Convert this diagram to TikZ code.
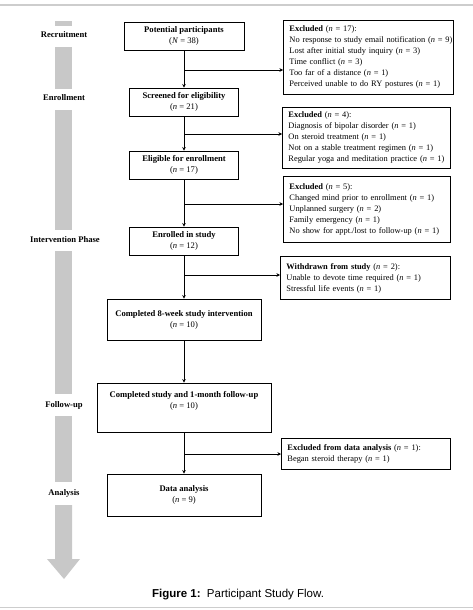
\documentclass[tikz,border=0pt]{standalone}
\usepackage{fontspec}
\setmainfont{Liberation Serif}
\newfontfamily\capfont{Liberation Sans}
\usetikzlibrary{arrows.meta,calc}
\definecolor{barg}{RGB}{200,200,200}
\definecolor{lineg}{RGB}{205,205,205}
\newcommand{\myn}{\textit{n}}
\hbadness=10000 \hfuzz=50pt
\begin{document}
\begin{tikzpicture}[x=1pt,y=-1pt,
  every node/.style={font=\fontsize{8.6}{11}\selectfont},
  mainbox/.style={draw,line width=0.9pt,align=center,inner sep=0pt},
  sidebox/.style={draw,line width=0.9pt,align=left,anchor=north west,inner xsep=6pt,inner ysep=0pt,font=\fontsize{8.4}{11}\selectfont},
  phase/.style={font=\fontsize{8.6}{10}\selectfont\bfseries},
  arr/.style={line width=0.9pt,-{Stealth[length=3.5pt,width=3.5pt]}}]
\useasboundingbox (0,0) rectangle (473,610);
% frame lines
\draw[lineg,line width=2pt] (0,5) -- (473,5);
\draw[lineg,line width=1.5pt] (0,607.5) -- (473,607.5);
% gray phase bar
\fill[barg] (55,21) rectangle (72,26);
\fill[barg] (55,47) rectangle (72,89);
\fill[barg] (55,110) rectangle (72,230);
\fill[barg] (55,251) rectangle (72,394);
\fill[barg] (55,416) rectangle (72,482);
\fill[barg] (55,505) -- (72,505) -- (72,559) -- (80,559) -- (64,579) -- (47,559) -- (55,559) -- cycle;
% phase labels
\node[phase] (p1) at (64,35) {Recruitment};
\node[phase] (p2) at (64,98) {Enrollment};
\node[phase] (p3) at (65,240) {Intervention Phase};
\node[phase] (p4) at (64,405) {Follow-up};
\node[phase] (p5) at (64,493) {Analysis};
% main boxes
\node[mainbox,minimum width=120,minimum height=28] (b1) at (184,36) {\textbf{Potential participants}\\(\textit{N} = 38)};
\node[mainbox,minimum width=109,minimum height=28] (b2) at (184,102) {\textbf{Screened for eligibility}\\(\myn{} = 21)};
\node[mainbox,minimum width=109,minimum height=28] (b3) at (184,165) {\textbf{Eligible for enrollment}\\(\myn{} = 17)};
\node[mainbox,minimum width=109,minimum height=28] (b4) at (184,241) {\textbf{Enrolled in study}\\(\myn{} = 12)};
\node[mainbox,minimum width=154,minimum height=41] (b5) at (184,319.5) {\textbf{Completed 8-week study intervention}\\(\myn{} = 10)};
\node[mainbox,minimum width=174,minimum height=49] (b6) at (184,407.5) {\textbf{Completed study and 1-month follow-up}\\(\myn{} = 10)\\[4pt]};
\node[mainbox,minimum width=154,minimum height=42] (b7) at (184,495) {\textbf{Data analysis}\\(\myn{} = 9)};
% side boxes
\node[sidebox,text width=158,minimum height=74] (e1) at (283,20) {\mbox{\textbf{Excluded} (\myn{} = 17):}\\\mbox{No response to study email notification (\myn{} = 9)}\\\mbox{Lost after initial study inquiry (\myn{} = 3)}\\\mbox{Time conflict (\myn{} = 3)}\\\mbox{Too far of a distance (\myn{} = 1)}\\\mbox{Perceived unable to do RY postures (\myn{} = 1)}};
\node[sidebox,text width=156,minimum height=61] (e2) at (282,107) {\mbox{\textbf{Excluded} (\myn{} = 4):}\\\mbox{Diagnosis of bipolar disorder (\myn{} = 1)}\\\mbox{On steroid treatment (\myn{} = 1)}\\\mbox{Not on a stable treatment regimen (\myn{} = 1)}\\\mbox{Regular yoga and meditation practice (\myn{} = 1)}};
\node[sidebox,text width=155,minimum height=66] (e3) at (283,176) {\mbox{\textbf{Excluded} (\myn{} = 5):}\\\mbox{Changed mind prior to enrollment (\myn{} = 1)}\\\mbox{Unplanned surgery (\myn{} = 2)}\\\mbox{Family emergency (\myn{} = 1)}\\\mbox{No show for appt./lost to follow-up (\myn{} = 1)}};
\node[sidebox,text width=158,minimum height=43] (e4) at (280,256) {\mbox{\textbf{Withdrawn from study} (\myn{} = 2):}\\\mbox{Unable to devote time required (\myn{} = 1)}\\\mbox{Stressful life events (\myn{} = 1)}\\[3pt]};
\node[sidebox,text width=157,minimum height=31] (e5) at (281,438) {\mbox{\textbf{Excluded from data analysis} (\myn{} = 1):}\\\mbox{Began steroid therapy (\myn{} = 1)}};
% vertical connectors
\draw[arr] (b1) -- (b2);
\draw[arr] (b2) -- (b3);
\draw[arr] (b3) -- (b4);
\draw[arr] (b4) -- (b5);
\draw[arr] (b5) -- (b6);
\draw[arr] (b6) -- (b7);
% branch points
\coordinate (j1) at (184,70);
\coordinate (j2) at (184,134);
\coordinate (j3) at (184,204);
\coordinate (j4) at (184,275);
\coordinate (j5) at (184,454);
\draw[arr] (j1) -- (j1 -| e1.west);
\draw[arr] (j2) -- (j2 -| e2.west);
\draw[arr] (j3) -- (j3 -| e3.west);
\draw[arr] (j4) -- (j4 -| e4.west);
\draw[arr] (j5) -- (j5 -| e5.west);
% caption
\node[font=\capfont\fontsize{11.5}{13}\selectfont] (cap) at (238,595) {\textbf{Figure 1:}\ \ Participant Study Flow.};
\end{tikzpicture}
\end{document}
